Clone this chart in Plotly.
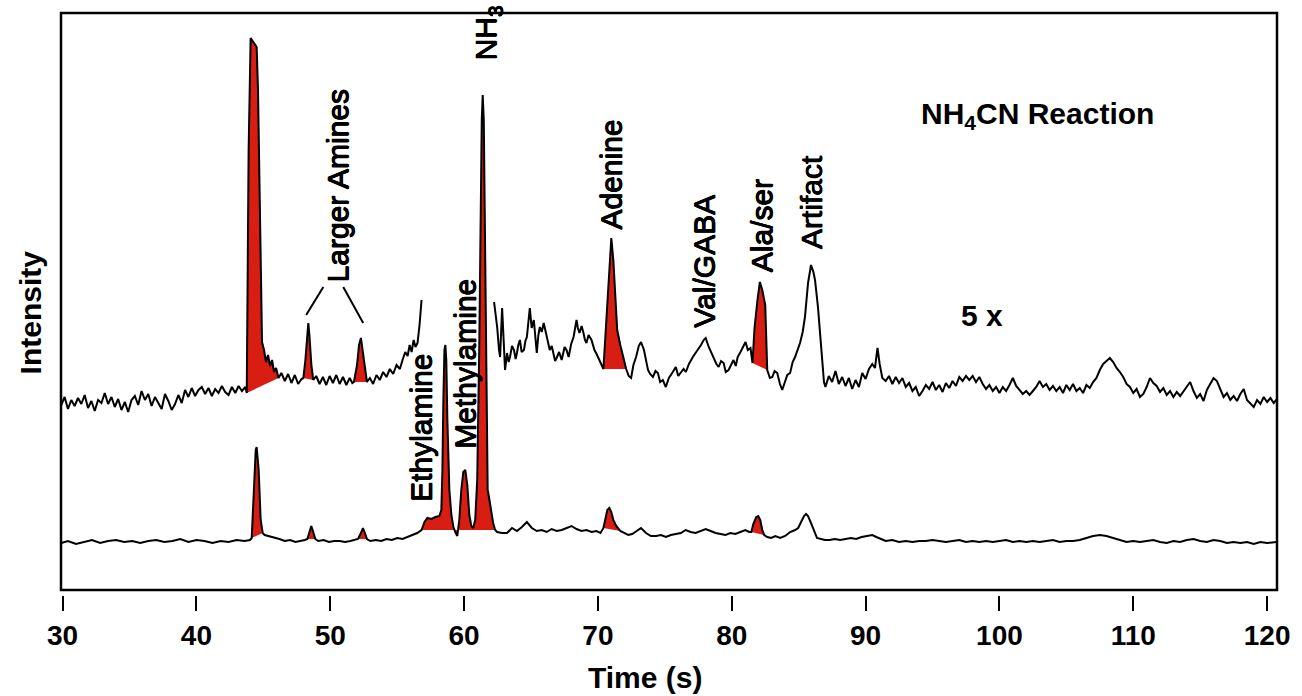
import plotly.graph_objects as go

# ---------------- data (time in s, intensity in arbitrary units) ----------------
top_t = [29.9, 30.15, 30.4, 30.65, 30.9, 31.15, 31.4, 31.65, 31.9, 32.15, 32.4, 32.65, 32.9, 33.15, 33.4, 33.65,
         33.9, 34.15, 34.4, 34.65, 34.9, 35.15, 35.4, 35.65, 35.9, 36.15, 36.4, 36.65, 36.9, 37.15, 37.4, 37.65,
         37.9, 38.15, 38.4, 38.65, 38.9, 39.15, 39.4, 39.65, 39.9, 40.15, 40.4, 40.65, 40.9, 41.15, 41.4, 41.65,
         41.9, 42.15, 42.4, 42.65, 42.9, 43.15, 43.4, 43.65, 43.76,
         43.9, 44.05, 44.2, 44.35, 44.5, 44.6, 44.7, 44.8, 44.9, 45.05, 45.2, 45.35, 45.5, 45.65, 45.8, 45.95,
         46.13, 46.35, 46.6, 46.85, 47.1, 47.35, 47.6, 47.85, 47.99, 48.14, 48.29, 48.36, 48.44, 48.59, 48.73,
         48.95, 49.2, 49.45, 49.7, 49.95, 50.2, 50.45, 50.7, 50.95, 51.2, 51.45, 51.65, 51.77, 52.0, 52.15, 52.29,
         52.44, 52.59, 52.74, 52.96, 53.2, 53.45, 53.7, 53.95, 54.2, 54.45, 54.7, 54.95, 55.2, 55.4, 55.6, 55.78,
         55.93, 56.08, 56.23, 56.37, 56.52, 56.67, 56.82, None,
         62.24, 62.47, 62.61, 62.69, 62.84, 62.99, 63.06, 63.21, 63.33, 63.43, 63.58, 63.73, 63.85, 63.95, 64.05,
         64.17, 64.3, 64.47, 64.58, 64.69, 64.91, 65.05, 65.21, 65.43, 65.55, 65.66, 65.8, 65.95, 66.17, 66.3,
         66.4, 66.55, 66.69, 66.8, 66.91, 67.1, 67.29, 67.4, 67.51, 67.65, 67.81, 68.0, 68.18, 68.4, 68.5,
         68.62, 68.78, 68.92, 69.03, 69.14, 69.3, 69.52, 69.62, 69.74, 69.9, 70.11, 70.25, 70.41, 70.63, 70.85,
         71.0, 71.15, 71.3, 71.44, 71.67, 71.89, 72.11, 72.3, 72.48, 72.65, 72.85, 73.05, 73.22, 73.44, 73.6,
         73.74, 73.9, 74.11, 74.3, 74.48, 74.65, 74.85, 75.07, 75.2, 75.3, 75.5, 75.67, 75.82, 76.0, 76.2,
         76.4, 76.57, 76.8, 77.09, 77.3, 77.46, 77.7, 77.9, 78.05, 78.28, 78.45, 78.65, 78.85, 79.02, 79.2,
         79.39, 79.55, 79.76, 79.95, 80.13, 80.3, 80.44, 80.65, 80.85, 81.03, 81.2, 81.4,
         81.55, 81.7, 81.92, 82.1, 82.28, 82.5, 82.65, 82.85, 83.03, 83.2, 83.4, 83.6, 83.77, 83.99, 84.15,
         84.36, 84.55, 84.73, 84.9, 85.1, 85.3, 85.47, 85.7, 85.92, 86.1, 86.22, 86.44, 86.6, 86.74, 86.89,
         87.0, 87.25, 87.5, 87.75, 88.0, 88.25, 88.5, 88.75, 89.0, 89.25, 89.5, 89.75, 90.0, 90.25, 90.5, 90.7,
         90.89, 91.05, 91.25, 91.5, 91.75, 92.0, 92.25, 92.5, 92.75, 93.0, 93.25, 93.5, 93.75, 94.0, 94.25,
         94.5, 94.75, 95.0, 95.25, 95.5, 95.75, 96.0, 96.25, 96.5, 96.75, 97.0, 97.25, 97.5, 97.75, 98.0,
         98.25, 98.5, 98.75, 99.0, 99.25, 99.5, 99.75, 100.0, 100.25, 100.5, 100.75, 101.0, 101.25, 101.5,
         101.75, 102.0, 102.25, 102.5, 102.75, 103.0, 103.25, 103.5, 103.75, 104.0, 104.25, 104.5, 104.75,
         105.0, 105.25, 105.5, 105.75, 106.0, 106.25, 106.5, 106.75, 107.0, 107.25, 107.5, 107.75, 108.0,
         108.25, 108.5, 108.75, 109.0, 109.25, 109.5, 109.75, 110.0, 110.25, 110.5, 110.75, 111.0, 111.25,
         111.5, 111.75, 112.0, 112.25, 112.5, 112.75, 113.0, 113.25, 113.5, 113.75, 114.0, 114.25, 114.5,
         114.75, 115.0, 115.25, 115.5, 115.75, 116.0, 116.25, 116.5, 116.75, 117.0, 117.25, 117.5, 117.75,
         118.0, 118.25, 118.5, 118.75, 119.0, 119.25, 119.5, 119.75, 120.0, 120.25, 120.5, 120.74]
top_i = [185, 193, 181, 190, 184, 192, 186, 195, 182, 189, 179, 190, 187, 197, 186, 193,
         183, 191, 180, 188, 178, 190, 194, 185, 199, 190, 196, 184, 193, 187, 181, 196,
         189, 180, 186, 195, 187, 200, 193, 202, 194, 200, 203, 196, 202, 194, 201, 197,
         204, 198, 195, 203, 197, 204, 199, 203, 197,
         440, 552, 549, 546, 543, 500, 420, 330, 248, 240, 228, 235, 224, 230, 218, 222,
         212, 217, 209, 216, 207, 215, 206, 211, 212, 230, 260, 267, 255, 225, 210,
         214, 206, 213, 205, 214, 207, 215, 206, 213, 205, 212, 207, 208, 225, 245, 252,
         238, 220, 208, 212, 206, 215, 210, 218, 213, 221, 216, 225, 221, 230, 238, 234,
         245, 238, 250, 243, 247, 265, 290, None,
         288, 263, 240, 233, 282, 227, 220, 237, 228, 233, 244, 240, 231, 237, 245,
         250, 238, 240, 249, 253, 282, 262, 270, 237, 255, 263, 258, 267, 253, 246,
         240, 244, 237, 229, 232, 238, 230, 236, 243, 240, 233, 246, 253, 270, 262,
         257, 264, 257, 250, 247, 255, 250, 244, 240, 236, 230, 226, 221, 270, 325,
         352, 330, 290, 260, 245, 232, 221, 214, 212, 225, 233, 244, 248, 240, 228,
         220, 216, 213, 219, 217, 208, 210, 203, 209, 212, 216, 220, 223, 214, 217,
         221, 218, 226, 233, 237, 240, 245, 250, 252, 243, 238, 232, 226, 223, 229,
         227, 218, 220, 226, 230, 224, 233, 238, 243, 248, 240, 242,
         227, 262, 290, 308, 300, 285, 220, 212, 213, 219, 217, 206, 200, 210, 215,
         217, 228, 233, 240, 247, 258, 273, 307, 325, 318, 310, 283, 258, 237, 208,
         203, 214, 208, 219, 206, 213, 204, 212, 201, 210, 203, 217, 211, 221, 226, 222,
         242, 226, 212, 209, 214, 206, 213, 207, 212, 203, 207, 199, 203, 194, 199,
         205, 201, 208, 200, 205, 198, 207, 202, 209, 204, 213, 209, 214, 210, 214,
         208, 213, 206, 201, 205, 199, 203, 197, 203, 199, 205, 212, 204, 200,
         196, 199, 195, 199, 203, 209, 203, 206, 200, 204, 199, 203, 197,
         205, 200, 206, 199, 202, 197, 205, 202, 208, 212, 220, 226, 229,
         232, 228, 222, 218, 213, 206, 203, 197, 201, 193, 196, 203, 212,
         207, 204, 198, 202, 195, 199, 193, 198, 194, 199, 204, 208, 199,
         192, 196, 189, 200, 206, 212, 209, 201, 193, 197, 190, 194, 189,
         196, 201, 190, 186, 183, 190, 186, 193, 188, 192, 187, 191]

bot_t = [29.9, 30.4, 31.0, 31.6, 32.2, 32.8, 33.4, 34.0, 34.6, 35.2, 35.8, 36.4, 37.0, 37.6, 38.2, 38.8,
         39.4, 40.0, 40.6, 41.2, 41.8, 42.4, 43.0, 43.6, 44.0, 44.13, 44.28, 44.43, 44.5, 44.65, 44.8, 44.95,
         45.1, 45.4, 45.8, 46.2, 46.6, 47.0, 47.4, 47.8, 48.1, 48.29, 48.44, 48.58, 48.73, 48.88, 49.1, 49.5,
         49.9, 50.3, 50.7, 51.1, 51.5, 51.8, 52.07, 52.29, 52.44, 52.59, 52.74, 53.0, 53.4, 53.8, 54.2, 54.6,
         55.0, 55.4, 55.8, 56.2, 56.5, 56.82, 57.04, 57.26, 57.56, 57.86, 58.15, 58.3, 58.38, 58.45, 58.53,
         58.6, 58.67, 58.75, 58.9, 59.05, 59.2, 59.34, 59.49, 59.64, 59.79, 59.94, 60.09, 60.24, 60.39, 60.54,
         60.68, 60.83, 60.98, 61.13, 61.24, 61.32, 61.39, 61.47, 61.54, 61.61, 61.68, 61.76, 61.87, 62.02,
         62.17, 62.32, 62.47, 62.84, 63.21, 63.58, 63.95, 64.32, 64.69, 65.06, 65.43, 65.8, 66.17, 66.54,
         66.92, 67.29, 67.66, 68.03, 68.4, 68.77, 69.15, 69.52, 69.89, 70.19, 70.41, 70.56, 70.7, 70.85,
         71.0, 71.15, 71.37, 71.67, 71.96, 72.26, 72.56, 72.85, 73.22, 73.59, 73.96, 74.34, 74.71, 75.08,
         75.45, 75.82, 76.19, 76.56, 76.93, 77.3, 77.67, 78.05, 78.42, 78.79, 79.16, 79.53, 79.9, 80.27,
         80.64, 81.01, 81.31, 81.46, 81.61, 81.83, 81.98, 82.13, 82.28, 82.43, 82.65, 82.95, 83.25, 83.62,
         83.99, 84.36, 84.73, 84.96, 85.18, 85.4, 85.55, 85.7, 85.92, 86.15, 86.37, 86.67, 86.96, 87.3,
         87.7, 88.1, 88.5, 88.9, 89.3, 89.7, 90.1, 90.5, 90.8, 91.1, 91.5, 92.0, 92.5, 93.0, 93.5, 94.0,
         94.5, 95.0, 95.5, 96.0, 96.5, 97.0, 97.5, 98.0, 98.5, 99.0, 99.5, 100.0, 100.5, 101.0, 101.5,
         102.0, 102.5, 103.0, 103.5, 104.0, 104.5, 105.0, 105.5, 106.0, 106.5, 107.0, 107.5, 108.0, 108.5,
         109.0, 109.5, 110.0, 110.5, 111.0, 111.5, 112.0, 112.5, 113.0, 113.5, 114.0, 114.5, 115.0, 115.5,
         116.0, 116.5, 117.0, 117.5, 118.0, 118.5, 119.0, 119.5, 120.0, 120.71]
bot_i = [47, 49, 46, 48, 50, 47, 49, 50, 48, 49, 47, 49, 50, 48, 49, 51,
         48, 50, 49, 47, 49, 48, 50, 49, 50, 52, 90, 140, 143, 120, 70, 57,
         55, 54, 52, 51, 49, 50, 48, 49, 50, 51, 57, 64, 58, 51, 49, 50,
         48, 49, 49, 48, 49, 50, 51, 57, 62, 57, 51, 49, 50, 49, 51, 50,
         52, 51, 53, 55, 57, 60, 68, 72, 71, 73, 74, 80, 120, 190, 240,
         245, 230, 170, 100, 75, 63, 58, 54, 70, 100, 118, 120, 105, 75, 64,
         62, 70, 110, 240, 400, 470, 495, 470, 380, 280, 150, 100, 92, 80,
         67, 60, 58, 57, 57, 62, 59, 63, 68, 62, 59, 60, 58, 61,
         59, 60, 62, 64, 61, 59, 60, 58, 59, 57, 62, 70, 80, 82,
         78, 70, 64, 59, 57, 55, 56, 59, 62, 57, 54, 54, 55, 53,
         55, 56, 57, 60, 58, 57, 59, 61, 59, 57, 56, 55, 57, 56,
         58, 60, 58, 58, 66, 73, 74, 70, 60, 55, 53, 52, 54, 52,
         54, 58, 60, 62, 68, 74, 76, 74, 67, 59, 52, 51, 50, 50,
         51, 50, 51, 52, 51, 53, 54, 55, 53, 51, 49, 50, 48, 49, 48, 49,
         49, 50, 49, 48, 49, 50, 48, 49, 48, 49, 48, 49, 50, 48, 49,
         48, 49, 48, 49, 50, 48, 49, 49, 50, 52, 54, 55, 54, 52,
         50, 48, 49, 48, 49, 50, 48, 47, 49, 48, 50, 51, 49, 48,
         50, 49, 47, 48, 47, 48, 46, 48, 47, 48]

# red-shaded peak windows (start, end) in seconds
top_red = [(43.76, 46.13), (47.99, 48.73), (51.77, 52.74), (70.41, 72.11), (81.55, 82.65)]
bot_red = [(44.13, 44.95), (48.29, 48.88), (52.07, 52.74), (56.82, 62.32), (70.41, 71.67), (81.46, 82.43)]

# peak labels
label_text = ["Larger Amines", "NH<sub>3</sub>", "Ethylamine", "Methylamine", "Adenine",
              "Val/GABA", "Ala/ser", "Artifact"]
label_t = [50.53, 61.74, 56.77, 60.05, 70.94, 77.9, 82.2, 85.92]
label_i = [404, 557, 162, 226, 415, 329, 364, 388]

# "Larger Amines" bracket lines (t0, i0, t1, i1)
bracket = [(49.48, 303, 48.2, 275), (50.97, 303, 52.46, 267)]

RED = "#d81e12"
FONT = "Liberation Sans, Arial, sans-serif"
THICK = "0.45px 0px 0px black, -0.45px 0px 0px black, 0px 0.45px 0px black, 0px -0.45px 0px black"

fig = go.Figure()


def add_fills(ts, vs, windows):
    for a, b in windows:
        xs, ys = [], []
        for t, v in zip(ts, vs):
            if t is None or v is None:
                continue
            if a - 1e-9 <= t <= b + 1e-9:
                xs.append(t)
                ys.append(v)
        fig.add_trace(go.Scatter(x=xs, y=ys, mode="lines", fill="toself", fillcolor=RED,
                                 line=dict(width=0, color=RED), hoverinfo="skip", showlegend=False))


add_fills(top_t, top_i, top_red)
add_fills(bot_t, bot_i, bot_red)

fig.add_trace(go.Scatter(x=top_t, y=top_i, mode="lines", line=dict(color="black", width=2),
                         connectgaps=False, showlegend=False))
fig.add_trace(go.Scatter(x=bot_t, y=bot_i, mode="lines", line=dict(color="black", width=2),
                         showlegend=False))

annotations = []
for txt, t, v in zip(label_text, label_t, label_i):
    annotations.append(dict(x=t, y=v, xref="x", yref="y", text=txt, textangle=-90, showarrow=False,
                            font=dict(family=FONT, size=30, color="black", shadow=THICK),
                            xanchor="center", yanchor="middle"))

annotations.append(dict(x=102.85, y=475, xref="x", yref="y", text="<b>NH<sub>4</sub>CN Reaction</b>",
                        showarrow=False, font=dict(family=FONT, size=30, color="black"),
                        xanchor="center", yanchor="middle"))
annotations.append(dict(x=98.69, y=275, xref="x", yref="y", text="<b>5 x</b>",
                        showarrow=False, font=dict(family=FONT, size=30, color="black"),
                        xanchor="center", yanchor="middle"))
annotations.append(dict(x=-0.0253, y=0.486, xref="paper", yref="paper", text="<b>Intensity</b>",
                        textangle=-90, showarrow=False, font=dict(family=FONT, size=30, color="black"),
                        xanchor="center", yanchor="middle"))
annotations.append(dict(x=0.48, y=-0.142, xref="paper", yref="paper", text="<b>Time (s)</b>",
                        showarrow=False, font=dict(family=FONT, size=30, color="black"),
                        xanchor="center", yanchor="middle"))

shapes = [dict(type="rect", xref="x domain", yref="y domain", x0=0, x1=1, y0=0, y1=1,
               line=dict(color="black", width=2.5), layer="above")]
for t0, i0, t1, i1 in bracket:
    shapes.append(dict(type="line", xref="x", yref="y", x0=t0, y0=i0, x1=t1, y1=i1,
                       line=dict(color="black", width=2)))

fig.update_layout(
    width=1302, height=696,
    margin=dict(l=61, r=17, t=13, b=101),
    paper_bgcolor="white", plot_bgcolor="white",
    showlegend=False,
    annotations=annotations,
    shapes=shapes,
    xaxis=dict(range=[29.88, 120.74], tickvals=[30, 40, 50, 60, 70, 80, 90, 100, 110, 120],
               ticks="outside", ticklen=15, tickwidth=2, tickcolor="black",
               showline=False, showgrid=False, zeroline=False, anchor="free", position=0,
               tickfont=dict(family=FONT, size=28, color="black", weight="bold")),
    yaxis=dict(range=[0, 577], domain=[5 / 582, 1], visible=False, showgrid=False, zeroline=False),
)

fig.write_html("out.html")
